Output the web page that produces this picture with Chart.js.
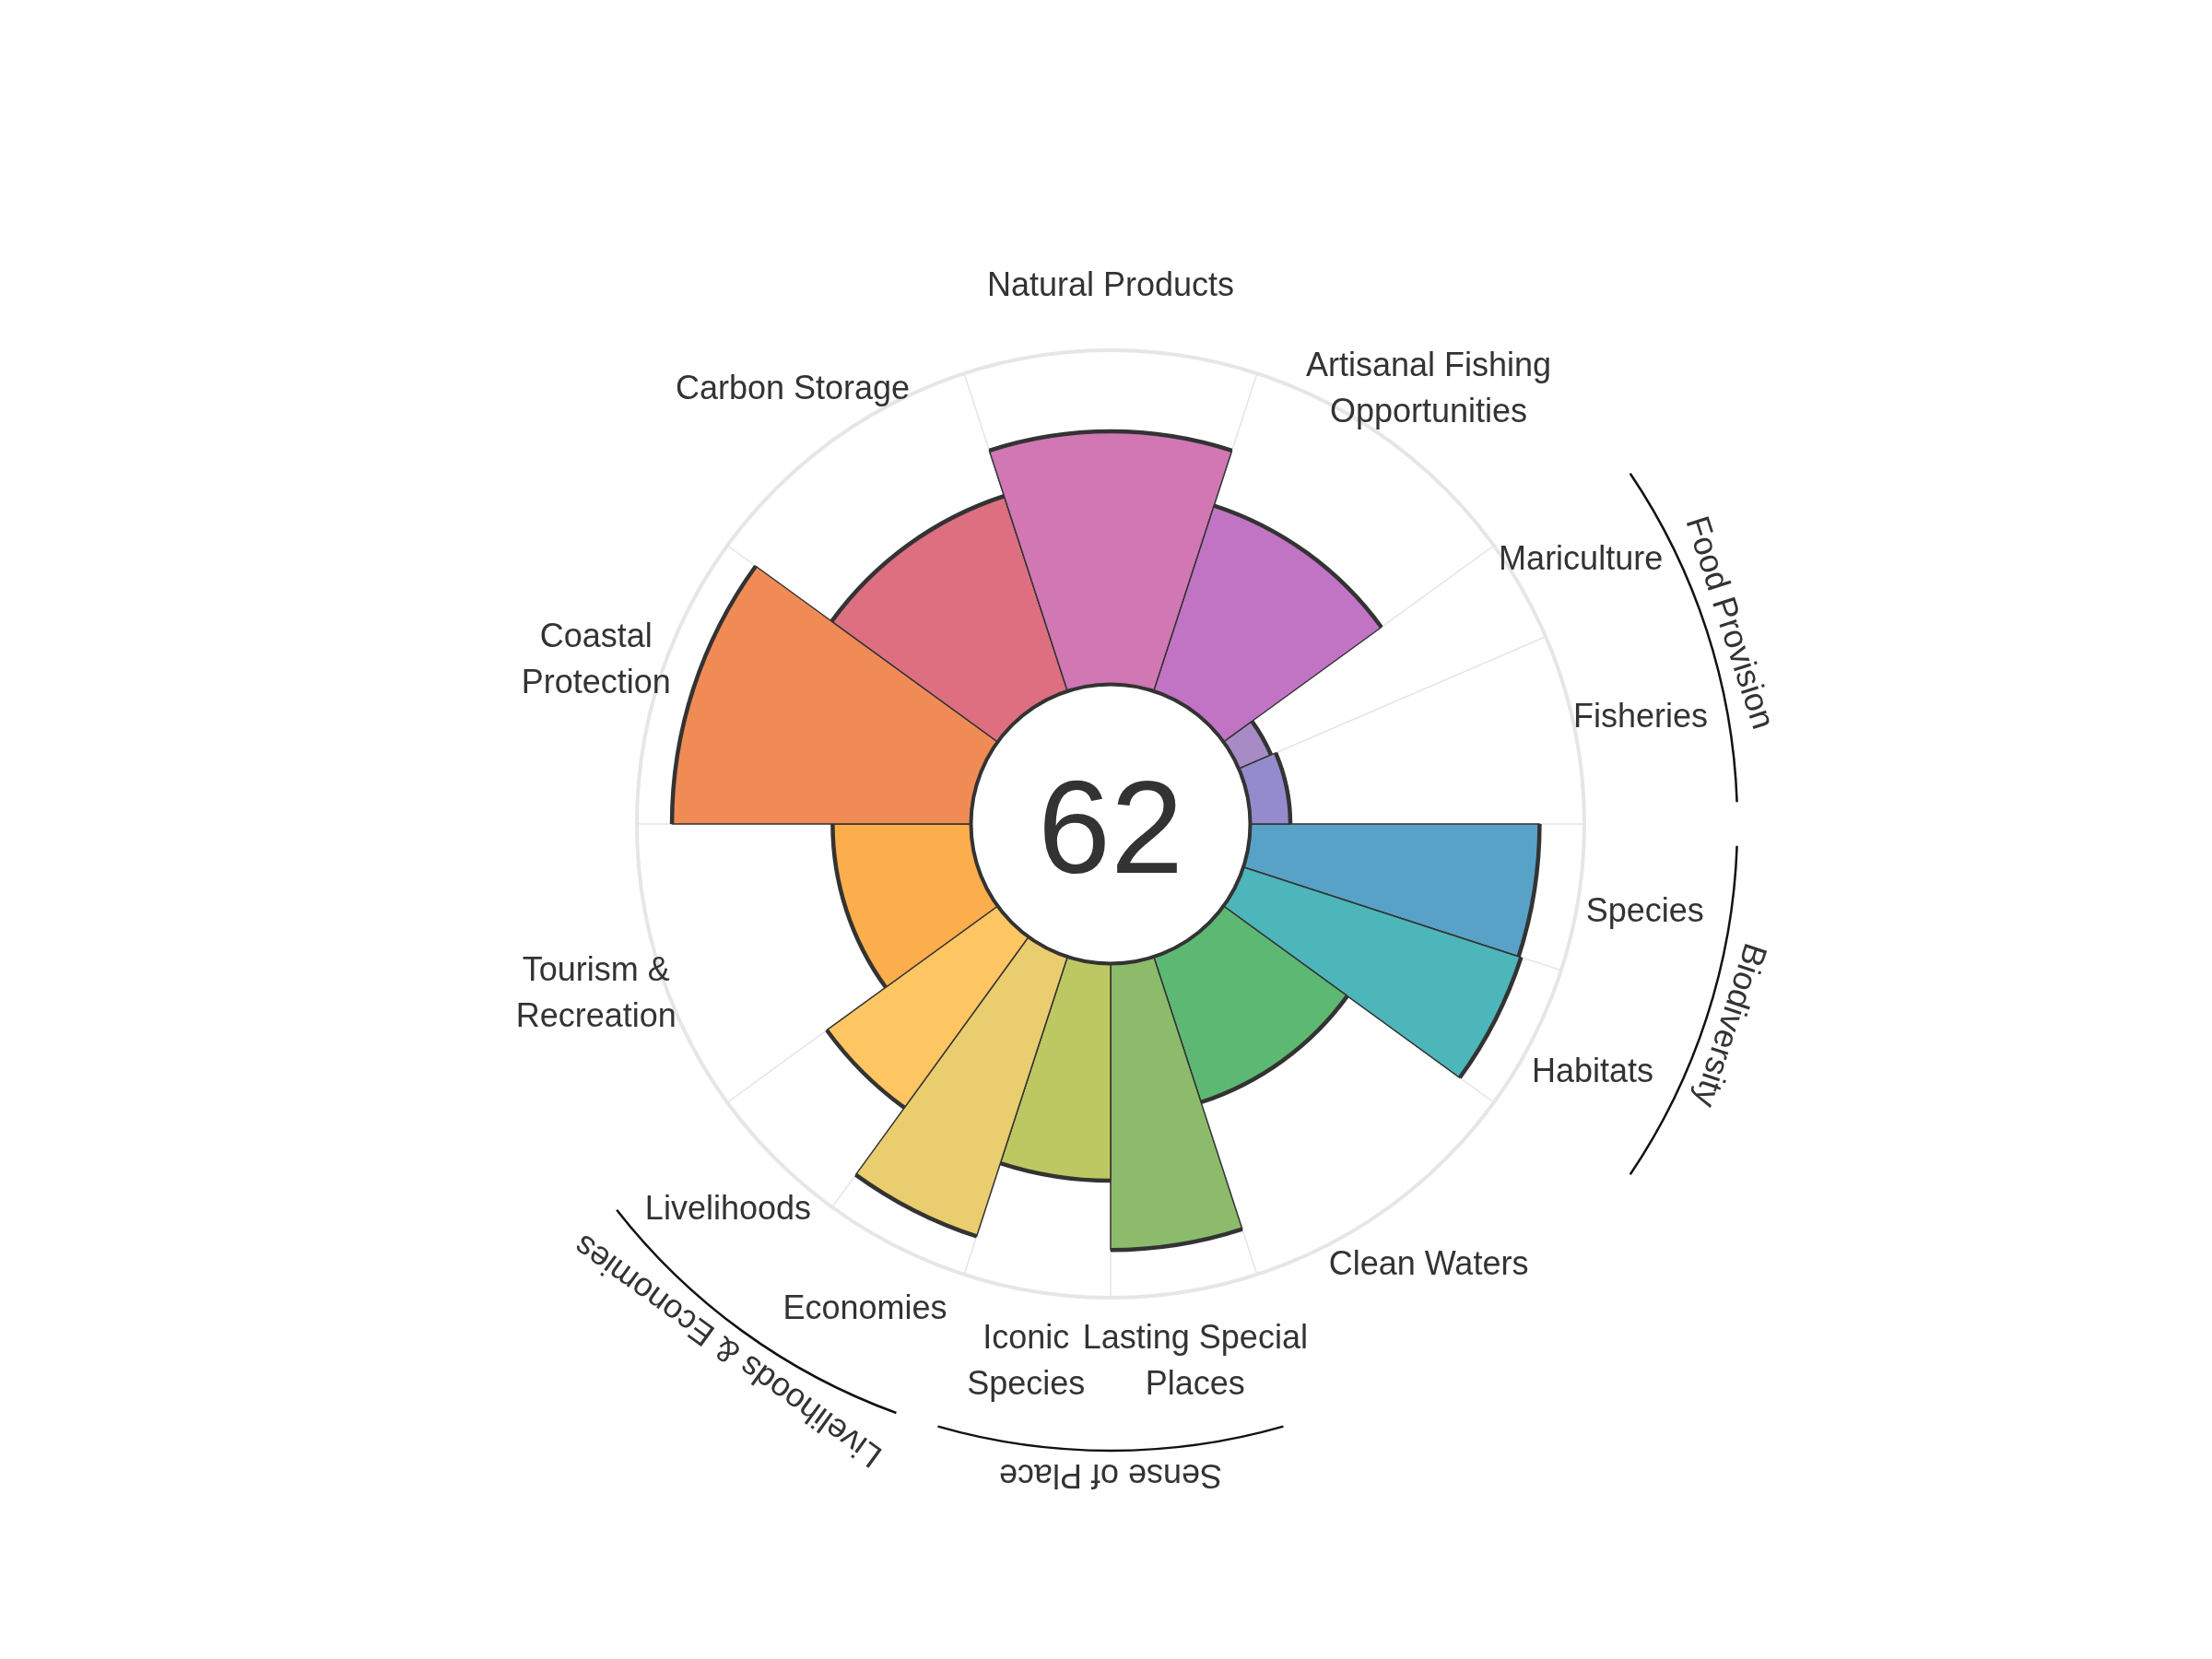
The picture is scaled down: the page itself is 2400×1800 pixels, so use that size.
<!DOCTYPE html>
<html>
<head>
<meta charset="utf-8">
<script src="https://cdn.jsdelivr.net/npm/chart.js@4.4.1/dist/chart.umd.min.js"></script>
<style>
  html, body { margin: 0; padding: 0; background: #fff; }
  #wrap { width: 2400px; height: 1800px; position: relative; }
</style>
</head>
<body>
<div id="wrap"><canvas id="flower"></canvas></div>
<script>
// goals in index order (counter-clockwise from east)
const goals = ['Fisheries', 'Mariculture', 'Artisanal Fishing Opportunities', 'Natural Products', 'Carbon Storage',
  'Coastal Protection', 'Tourism & Recreation', 'Livelihoods', 'Economies', 'Iconic Species',
  'Lasting Special Places', 'Clean Waters', 'Habitats', 'Species'];
const labelLines = [['Fisheries'], ['Mariculture'], ['Artisanal Fishing', 'Opportunities'], ['Natural Products'],
  ['Carbon Storage'], ['Coastal', 'Protection'], ['Tourism &', 'Recreation'], ['Livelihoods'], ['Economies'],
  ['Iconic', 'Species'], ['Lasting Special', 'Places'], ['Clean Waters'], ['Habitats'], ['Species']];
const scores = [12, 10.5, 58.4, 75.7, 61.4, 89.5, 41.4, 63.2, 88, 65, 85.7, 45.8, 87.4, 86.6];
const widths = [23.3, 12.7, 36, 36, 36, 36, 36, 18, 18, 18, 18, 36, 18, 18];
const colors = ['#938bcc', '#a78bc4', '#c274c4', '#d077b4', '#dd6f81', '#f18b56', '#fdae4c', '#fec662',
  '#eacd6e', '#bdc862', '#8cbb6c', '#5db873', '#4cb6bb', '#58a2c8'];
const groups = ['Food Provision', 'Livelihoods & Economies', 'Sense of Place', 'Biodiversity'];
const groupMembers = [[0, 1], [7, 8], [9, 10], [12, 13]];
const overallScore = 62;

const fontFamily = "'Liberation Sans', Arial, Helvetica, sans-serif";
const textColor = '#333333';

// Chart.js draws clockwise, the index runs counter-clockwise, so reverse
const order = goals.map((_, i) => goals.length - 1 - i);
const chartScores = order.map(i => scores[i]);
const chartWidths = order.map(i => widths[i]);
const chartColors = order.map(i => colors[i]);

const flowerDecor = {
  id: 'flowerDecor',
  beforeDatasetsDraw(chart) {
    const { ctx } = chart;
    const scale = chart.scales.r;
    const cx = scale.xCenter, cy = scale.yCenter;
    const outer = scale.getDistanceFromCenterForValue(100);
    const arcs = chart.getDatasetMeta(0).data;
    ctx.save();
    ctx.strokeStyle = '#e6e6e6';
    ctx.lineWidth = 1.6;
    arcs.forEach((a) => {
      ctx.beginPath();
      ctx.moveTo(cx, cy);
      ctx.lineTo(cx + outer * Math.cos(a.startAngle), cy + outer * Math.sin(a.startAngle));
      ctx.stroke();
    });
    ctx.lineWidth = 4;
    ctx.beginPath();
    ctx.arc(cx, cy, outer, 0, Math.PI * 2);
    ctx.stroke();
    ctx.restore();
  },
  afterDatasetsDraw(chart) {
    const { ctx } = chart;
    const scale = chart.scales.r;
    const cx = scale.xCenter, cy = scale.yCenter;
    const arcs = chart.getDatasetMeta(0).data;
    const hole = scale.getDistanceFromCenterForValue(0);
    const outer = scale.getDistanceFromCenterForValue(100);

    ctx.save();
    // heavy outer edge of each petal
    ctx.strokeStyle = '#333';
    ctx.lineWidth = 4.5;
    ctx.lineCap = 'butt';
    arcs.forEach((a) => {
      ctx.beginPath();
      ctx.arc(cx, cy, a.outerRadius, a.startAngle, a.endAngle);
      ctx.stroke();
    });

    // centre hole with the score
    ctx.beginPath();
    ctx.arc(cx, cy, hole, 0, Math.PI * 2);
    ctx.fillStyle = '#fff';
    ctx.fill();
    ctx.lineWidth = 4;
    ctx.stroke();
    ctx.fillStyle = textColor;
    ctx.font = `142px ${fontFamily}`;
    ctx.textAlign = 'center';
    ctx.textBaseline = 'alphabetic';
    ctx.fillText(String(overallScore), cx, cy + 53);

    // goal labels
    const labelR = outer + 73;
    const lineH = 50;
    ctx.font = `36px ${fontFamily}`;
    ctx.textBaseline = 'middle';
    arcs.forEach((a, k) => {
      const lines = labelLines[order[k]];
      const mid = (a.startAngle + a.endAngle) / 2;
      const lx = cx + labelR * Math.cos(mid);
      const ly = cy + labelR * Math.sin(mid) + 4;
      lines.forEach((t, j) => {
        ctx.fillText(t, lx, ly + (j - (lines.length - 1) / 2) * lineH);
      });
    });

    // group arcs and names
    const arcR = outer + 166;
    const groupTextR = outer + 191;
    const span = 16 * Math.PI / 180;
    groups.forEach((g, gi) => {
      const [first, last] = groupMembers[gi];
      const elFirst = arcs[order.indexOf(first)];
      const elLast = arcs[order.indexOf(last)];
      const a0 = Math.min(elFirst.startAngle, elLast.startAngle);
      const a1 = Math.max(elFirst.endAngle, elLast.endAngle);
      const mid = (a0 + a1) / 2;
      ctx.strokeStyle = '#111';
      ctx.lineWidth = 2.5;
      ctx.beginPath();
      ctx.arc(cx, cy, arcR, mid - span, mid + span);
      ctx.stroke();
      ctx.save();
      ctx.translate(cx + groupTextR * Math.cos(mid), cy + groupTextR * Math.sin(mid));
      ctx.rotate(mid + Math.PI / 2);
      ctx.fillStyle = textColor;
      ctx.fillText(g, 0, 0);
      ctx.restore();
    });
    ctx.restore();
  }
};

new Chart(document.getElementById('flower'), {
  type: 'polarArea',
  data: {
    labels: order.map(i => goals[i]),
    datasets: [{
      data: chartScores,
      backgroundColor: chartColors,
      borderColor: '#333',
      borderWidth: 1.5,
      angle: (c) => chartWidths[c.dataIndex],
    }],
  },
  options: {
    responsive: true,
    maintainAspectRatio: false,
    animation: false,
    layout: { padding: { left: 691, right: 681, top: 380, bottom: 392 } },
    plugins: { legend: { display: false }, tooltip: { enabled: false } },
    scales: {
      r: {
        min: -41.79,
        max: 100,
        startAngle: 90,
        ticks: { display: false },
        grid: { display: false },
        angleLines: { display: false },
        pointLabels: { display: false },
      },
    },
  },
  plugins: [flowerDecor],
});
</script>
</body>
</html>
